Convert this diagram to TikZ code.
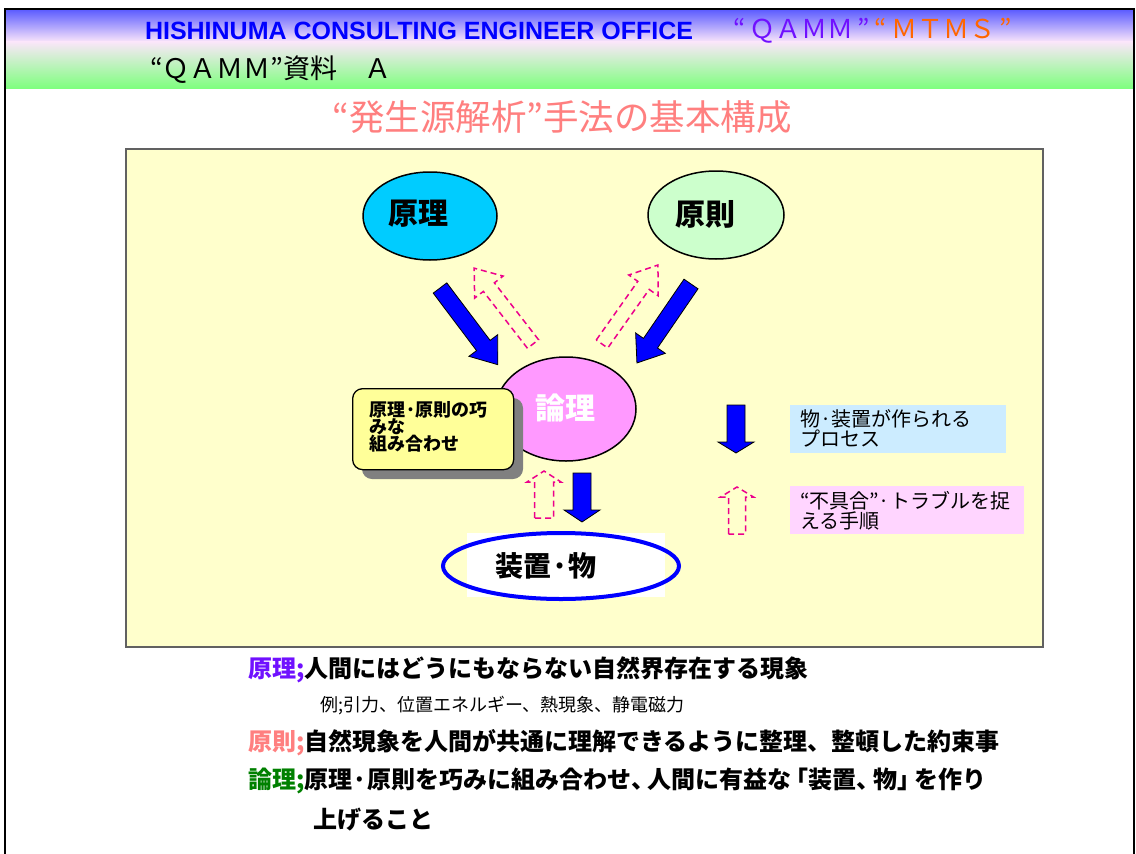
\documentclass[tikz,border=0pt]{standalone}
\usepackage{fontspec}
\setmainfont{Liberation Sans}
\newfontfamily\jp{Noto Sans CJK JP}
\usetikzlibrary{shapes.geometric}
\definecolor{bandtop}{HTML}{5E5EFF}
\definecolor{bandmid}{HTML}{FBE6FA}
\definecolor{bandbot}{HTML}{7FFF7F}
\definecolor{panel}{HTML}{FFFFCC}
\definecolor{cyanfill}{HTML}{00CCFF}
\definecolor{greenfill}{HTML}{CCFFCC}
\definecolor{pinkfill}{HTML}{FF99FF}
\definecolor{notebox}{HTML}{FFFF99}
\definecolor{legblue}{HTML}{CCECFF}
\definecolor{legpink}{HTML}{FFD5FF}
\definecolor{salmon}{HTML}{FF7F7F}
\definecolor{qviolet}{HTML}{7010FF}
\definecolor{qorange}{HTML}{FF6600}
\definecolor{dgreen}{HTML}{008000}
\definecolor{headblue}{HTML}{0000FF}
\newcommand\fsz[1]{\fontsize{#1}{#1}\selectfont}
% style, x, y, angle, length, shaft half width, head half width, head length
\newcommand\blockarrow[8]{%
  \draw[#1, shift={(#2,#3)}, rotate=#4] (0,-#6) -- ({#5-#8},-#6) -- ({#5-#8},-#7) -- (#5,0)
    -- ({#5-#8},#7) -- ({#5-#8},#6) -- (0,#6) -- cycle;}
\begin{document}
\begin{tikzpicture}[x=1pt,y=-1pt,
  txt/.style={inner sep=0pt, outer sep=0pt},
  solidarrow/.style={fill=headblue, draw=black, line width=0.8pt, line join=miter},
  dasharrow/.style={draw=magenta, line width=1.5pt, dash pattern=on 6pt off 4pt},
  oval/.style={ellipse, draw=black, line width=1.5pt, inner sep=0pt},
  legbox/.style={draw=none, inner sep=0pt, anchor=north west}]
\useasboundingbox (0,0) rectangle (1136,854);
\fill[white] (0,0) rectangle (1136,854);
% header band
\shade[top color=bandtop, bottom color=bandmid] (6,10) rectangle (1133,42);
\shade[top color=bandmid, bottom color=bandbot] (6,41.5) rectangle (1133,88);
\draw[black, line width=2pt] (5,854) -- (5,9) -- (1134,9) -- (1134,854);
\node[txt, anchor=west, text=headblue, font=\bfseries\fsz{25}] (office) at (145,31) {HISHINUMA CONSULTING ENGINEER OFFICE};
\node[txt, anchor=west, font=\jp\fsz{26}] (qamm) at (733,31) {\textcolor{qviolet}{“\,ＱＡＭＭ\,”}\,\textcolor{qorange}{“\,ＭＴＭＳ\,”}};
\node[txt, anchor=west, font=\jp\fsz{27}] (doc) at (150,70) {“ＱＡＭＭ”資料　Ａ};
% title
\node[txt, text=salmon, font=\jp\fsz{35.5}] (title) at (562,117) {“発生源解析”手法の基本構成};
% panel
\node[draw=black!62, line width=2pt, fill=panel, minimum width=917pt, minimum height=498pt, inner sep=0pt, anchor=north west] (panel) at (125,148) {};
% ellipses
\node[oval, fill=cyanfill, minimum width=134pt, minimum height=88pt] (genri) at (430,216) {};
\node[txt, font=\jp\bfseries\fsz{30}] (genriT) at (418,214) {原理};
\node[oval, fill=greenfill, minimum width=136pt, minimum height=88pt] (gensoku) at (716,215) {};
\node[txt, font=\jp\bfseries\fsz{30}] (gensokuT) at (705,214) {原則};
\node[oval, fill=pinkfill, minimum width=140pt, minimum height=104pt] (ronri) at (566,409) {};
\node[txt, text=white, font=\jp\bfseries\fsz{30}] (ronriT) at (565,408) {論理};
% note box
\fill[black!50, rounded corners=10pt] (362,398) rectangle (523,479);
\node[draw=black, line width=1.3pt, fill=notebox, rounded corners=10pt, minimum width=161pt, minimum height=81pt, anchor=north west, inner sep=0pt] (note) at (352,388) {};
\node[txt, anchor=west, align=left, font=\jp\bfseries\fsz{18}] (noteT) at (369,427) {原理·原則の巧\\[-1pt]みな\\[-1pt]組み合わせ};
% device
\fill[white] (467,533) rectangle (665,597);
\node[ellipse, draw=headblue, line width=4pt, minimum width=236pt, minimum height=66pt, inner sep=0pt] (device) at (561,566) {};
\node[txt, font=\jp\bfseries\fsz{28}] (deviceT) at (546,566) {装置·物};
% solid arrows
\blockarrow{solidarrow}{440}{288}{-53}{96}{8.5}{18}{24}
\blockarrow{solidarrow}{691}{284}{-124.4}{95.7}{8.5}{18}{24}
\blockarrow{solidarrow}{582}{473}{-90}{49}{9}{18}{12}
\blockarrow{solidarrow}{736}{405}{-90}{48}{9}{18}{11}
% dashed arrows
\blockarrow{dasharrow}{533}{344}{127.8}{96}{7}{18}{24}
\blockarrow{dasharrow}{602}{344}{54.7}{96.8}{7}{18}{25}
\blockarrow{dasharrow}{544}{518}{90}{47}{9.5}{17}{11}
\blockarrow{dasharrow}{737}{534}{90}{47}{8.5}{16.5}{10}
% legend
\node[legbox, fill=legblue, minimum width=216pt, minimum height=48pt] (leg1) at (790,405) {};
\node[txt, anchor=west, align=left, font=\jp\fsz{20}] (leg1T) at (800,428) {物·装置が作られる\\プロセス};
\node[legbox, fill=legpink, minimum width=234pt, minimum height=48pt] (leg2) at (790,486) {};
\node[txt, anchor=west, align=left, font=\jp\fsz{20}] (leg2T) at (800,511) {“不具合”·トラブルを捉\\える手順};
% bottom text
\node[txt, anchor=west, font=\jp\bfseries\fsz{24}] (l1) at (248,670) {\textcolor{qviolet}{原理;}人間にはどうにもならない自然界存在する現象};
\node[txt, anchor=west, font=\jp\fsz{18}] (l2) at (320,706) {例;引力、位置エネルギー、熱現象、静電磁力};
\node[txt, anchor=west, font=\jp\bfseries\fsz{24}] (l3) at (248,743) {\textcolor{salmon}{原則;}自然現象を人間が共通に理解できるように整理、整頓した約束事};
\node[txt, anchor=west, font=\jp\bfseries\fsz{24}] (l4) at (248,781) {\textcolor{dgreen}{論理;}原理·原則を巧みに組み合わせ、\kern-0.3em人間に有益な\kern-0.3em「装置、\kern-0.3em物」\kern-0.3emを作り};
\node[txt, anchor=west, font=\jp\bfseries\fsz{24}] (l5) at (313,820) {上げること};
\end{tikzpicture}
\end{document}
